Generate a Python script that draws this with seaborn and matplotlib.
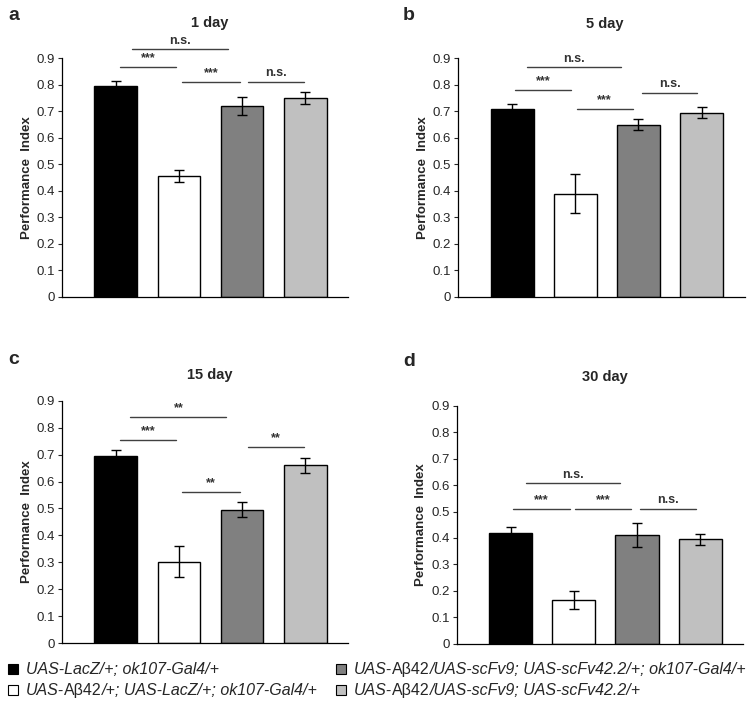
import numpy as np
import pandas as pd
import seaborn as sns
import matplotlib.pyplot as plt
from matplotlib.patches import Rectangle

sns.set_style("white")
plt.rcParams['font.family'] = ['Liberation Sans', 'DejaVu Sans']

# data
genotypes = ['LacZ', 'Abeta', 'Abeta+scFv ok107', 'Abeta+scFv']
bar_colors = ['#000000', '#ffffff', '#808080', '#c0c0c0']
# legend labels as (text, italic) pieces, A-beta is upright in the original
legend_labels = [
    [('UAS-LacZ/+; ok107-Gal4/+', True)],
    [('UAS-', True), ('Aβ42', False), ('/+; UAS-LacZ/+; ok107-Gal4/+', True)],
    [('UAS-', True), ('Aβ42', False), ('/UAS-scFv9; UAS-scFv42.2/+; ok107-Gal4/+', True)],
    [('UAS-', True), ('Aβ42', False), ('/UAS-scFv9; UAS-scFv42.2/+', True)],
]

titles = ['1 day', '5 day', '15 day', '30 day']
letters = ['a', 'b', 'c', 'd']

pi_1 = [0.795, 0.455, 0.720, 0.750]
sem_1 = [0.020, 0.022, 0.033, 0.022]
pi_5 = [0.710, 0.390, 0.650, 0.695]
sem_5 = [0.018, 0.075, 0.022, 0.022]
pi_15 = [0.695, 0.302, 0.495, 0.660]
sem_15 = [0.022, 0.057, 0.028, 0.028]
pi_30 = [0.420, 0.165, 0.410, 0.395]
sem_30 = [0.020, 0.035, 0.045, 0.020]

# significance brackets: (x0, x1, y, label)
sig_1 = [(0.26, 1.77, 0.934, 'n.s.'), (0.06, 0.96, 0.866, '***'),
         (1.05, 1.96, 0.81, '***'), (2.09, 2.99, 0.81, 'n.s.')]
sig_5 = [(0.24, 1.73, 0.866, 'n.s.'), (0.04, 0.94, 0.78, '***'),
         (1.02, 1.91, 0.71, '***'), (2.05, 2.93, 0.77, 'n.s.')]
sig_15 = [(0.23, 1.75, 0.84, '**'), (0.06, 0.96, 0.756, '***'),
          (1.05, 1.96, 0.56, '**'), (2.09, 2.99, 0.73, '**')]
sig_30 = [(0.25, 1.73, 0.606, 'n.s.'), (0.04, 0.94, 0.51, '***'),
          (1.02, 1.91, 0.51, '***'), (2.05, 2.93, 0.51, 'n.s.')]

values = [pi_1, pi_5, pi_15, pi_30]
sems = [sem_1, sem_5, sem_15, sem_30]
sigs = [sig_1, sig_5, sig_15, sig_30]

# axes positions [left, bottom, width, height] in figure fraction
positions = [[0.083, 0.577, 0.381, 0.340],
             [0.611, 0.577, 0.382, 0.340],
             [0.083, 0.084, 0.381, 0.345],
             [0.609, 0.083, 0.382, 0.339]]
# title and panel letter positions in pixels (x, y from top)
title_xy = [(210, 23), (605, 24), (210, 375), (605, 377)]
letter_xy = [(8, 16), (403, 16), (8, 359), (403, 361)]

W, H = 750, 702
fig = plt.figure(figsize=(7.5, 7.02), dpi=100)

for i in range(4):
    ax = fig.add_axes(positions[i])
    df = pd.DataFrame({'genotype': genotypes, 'PI': values[i]})
    sns.barplot(data=df, x='genotype', y='PI', hue='genotype', palette=bar_colors,
                order=genotypes, hue_order=genotypes, dodge=False, width=0.68,
                edgecolor='black', linewidth=1, legend=False, ax=ax)
    ax.errorbar(np.arange(4), values[i], yerr=sems[i], fmt='none', ecolor='black',
                elinewidth=1, capsize=3.6, capthick=1)
    for x0, x1, y, lab in sigs[i]:
        ax.plot([x0, x1], [y, y], color='#404040', lw=1, clip_on=False)
        ax.text((x0 + x1) / 2, y + 0.01, lab, ha='center', va='bottom',
                fontsize=9, fontweight='bold', color='#333333')
    ax.set_xlim(-0.85, 3.68)
    ax.set_ylim(0, 0.9)
    ax.set_yticks(np.arange(0, 0.91, 0.1))
    ax.set_yticklabels(['0'] + ['%.1f' % v for v in np.arange(0.1, 0.91, 0.1)], fontsize=9.5)
    ax.set_xticks([])
    ax.set_xlabel('')
    ax.set_ylabel('Performance  Index', fontsize=9.5, fontweight='bold', labelpad=3)
    ax.tick_params(axis='y', direction='out', length=3, width=0.8, left=True, pad=2)
    for s in ['top', 'right']:
        ax.spines[s].set_visible(False)
    for s in ['left', 'bottom']:
        ax.spines[s].set_color('black')
        ax.spines[s].set_linewidth(0.9)
    fig.text(title_xy[i][0] / W, 1 - title_xy[i][1] / H, titles[i], fontsize=10.5,
             fontweight='bold', ha='center', va='center')
    fig.text(letter_xy[i][0] / W, 1 - letter_xy[i][1] / H, letters[i], fontsize=14,
             fontweight='bold', ha='left', va='center')

# legend drawn by hand so that A-beta stays upright inside italic labels
renderer = fig.canvas.get_renderer()
leg_xy = [(8, 669), (8, 690), (336, 669), (336, 690)]
for (px, py), col, pieces in zip(leg_xy, bar_colors, legend_labels):
    fig.add_artist(Rectangle((px / W, 1 - (py + 5) / H), 10 / W, 10 / H,
                             facecolor=col, edgecolor='black', linewidth=0.8,
                             transform=fig.transFigure))
    x = px + 18
    for txt, it in pieces:
        t = fig.text(x / W, 1 - (py + 5) / H, txt, fontsize=11.5,
                     style='italic' if it else 'normal', ha='left', va='baseline')
        x += t.get_window_extent(renderer).width

fig.savefig('out.png', dpi=100)
